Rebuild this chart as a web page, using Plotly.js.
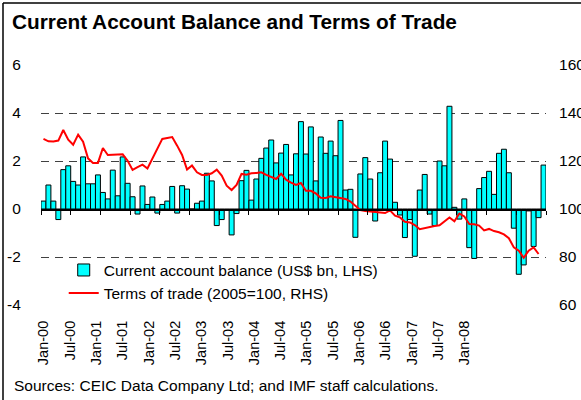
<!DOCTYPE html>
<html>
<head>
<meta charset="utf-8">
<script src="https://cdn.plot.ly/plotly-3.0.1.min.js"></script>
<style>html,body{margin:0;padding:0;background:#fff;}#chart{width:581px;height:400px;}</style>
</head>
<body>
<div id="chart"></div>
<script>
// Monthly data, Jan-2000 .. Jun-2008
const currentAccount = [
  0.33, 1.0, 0.33, -0.44, 1.64, 1.8, 1.15, 1.0, 2.17, 1.05, 1.05, 1.42,
  0.69, 0.42, 1.62, 0.55, 2.17, 1.07, 0.51, -0.21, 0.96, 0.19, 0.5, -0.17,
  0.19, 0.33, 0.94, -0.17, 0.97, 0.83, 0.0, 0.24, 0.33, 1.49, 1.17, -0.69,
  -0.44, -0.03, -1.08, -0.19, 1.18, 1.61, 0.37, 1.25, 2.11, 2.54, 2.875, 1.92,
  2.33, 2.69, 1.42, 2.3, 3.64, 2.29, 3.42, 1.17, 3.0, 2.32, 2.83, 2.22,
  3.69, 0.79, 0.82, -1.18, 1.46, 2.14, 1.25, -0.5, 1.51, 2.83, 2.08, 0.28,
  -0.25, -1.19, -0.44, -1.97, 0.79, 1.44, -0.21, -0.69, 2.0, 1.8, 4.28, 0.07,
  -0.42, 0.42, -1.61, -2.06, 0.85, 1.31, 1.57, 0.61, 2.32, 2.49, 1.51, -0.8,
  -2.72, -2.33, -0.08, -1.56, -0.36, 1.83
];
const termsOfTrade = [
  129.2, 128.2, 128.1, 128.5, 132.9, 128.9, 126.8, 131, 128, 121.1, 119.2, 119.2,
  125.4, 122.5, 122.6, 122.6, 122.8, 120.1, 116.3, 117.4, 118.5, 116.9, 120.8, 125.3,
  129.2, 129.6, 130, 126.4, 122.5, 116.4, 118.1, 115.3, 114.2, 114.2, 114.9, 116.4,
  113.9, 109.7, 107.9, 110, 114.6, 114.3, 114.9, 115, 115.3, 114.2, 113.5, 112.5,
  114.7, 112.2, 111, 110, 110.8, 107.6, 107.6, 106.5, 104.7, 104.6, 105.3, 105,
  104.4, 104.2, 103.1, 101.4, 99.6, 99.2, 99, 98.6, 98.3, 98.3, 99.4, 97.2,
  96.5, 94.7, 94.4, 93.3, 91.6, 92.1, 92.4, 92.9, 93.2, 95, 96.5, 94.9,
  98.1, 96.9, 93.75, 93.6, 93.1, 91.1, 91.7, 90.8, 90.3, 89.4, 87.8, 84,
  82.6, 79.7, 82.6, 84, 81.25
];
const monthLabels = ["Jan-00","Jul-00","Jan-01","Jul-01","Jan-02","Jul-02","Jan-03","Jul-03",
  "Jan-04","Jul-04","Jan-05","Jul-05","Jan-06","Jul-06","Jan-07","Jul-07","Jan-08"];
const leftTicks = [6, 4, 2, 0, -2, -4];
const leftTickText = ["6", "4", "2", "0", "-2", "-4"];
const rightTicks = [160, 140, 120, 100, 80, 60];
const rightTickText = ["160", "140", "120", "100", "80", "60"];
const seriesNames = ["Current account balance (US$ bn, LHS)", "Terms of trade (2005=100, RHS)"];
const titleText = "Current Account Balance and Terms of Trade";
const sourceText = "Sources: CEIC Data Company Ltd; and IMF staff calculations.";

const FONT = "Liberation Sans, Arial, sans-serif";
const idx = currentAccount.map((_, i) => i);
const totIdx = termsOfTrade.map((_, i) => i);
const sixMonthTicks = [];
for (let k = 0; k * 6 - 0.5 <= currentAccount.length - 0.5; k++) sixMonthTicks.push(k * 6 - 0.5);

const traces = [
  {
    type: "bar", x: idx, y: currentAccount, xaxis: "x", yaxis: "y",
    name: seriesNames[0],
    marker: { color: "#00FFFF", line: { color: "#000000", width: 1 } },
    width: 1, hoverinfo: "skip"
  },
  {
    type: "scatter", mode: "lines", x: totIdx, y: termsOfTrade, xaxis: "x", yaxis: "y2",
    name: seriesNames[1],
    line: { color: "#FF0000", width: 2 }, hoverinfo: "skip"
  },
  {
    type: "scatter", mode: "markers", x: monthLabels.map((_, i) => i), y: monthLabels.map(() => null),
    xaxis: "x2", yaxis: "y", marker: { opacity: 0 }, showlegend: false, hoverinfo: "skip"
  }
];

const layout = {
  width: 581, height: 400,
  margin: { l: 41, r: 35, t: 65, b: 95, pad: 0 },
  paper_bgcolor: "#ffffff", plot_bgcolor: "#ffffff",
  font: { family: FONT, size: 15.5, color: "#000000" },
  bargap: 0,
  showlegend: true,
  title: {
    text: titleText, xref: "container", yref: "container",
    x: 12 / 581, xanchor: "left", y: 1 - 22 / 400, yanchor: "middle",
    font: { family: FONT, size: 20.8, color: "#000000", weight: 700 }
  },
  xaxis: {
    range: [-0.5, currentAccount.length - 0.5], anchor: "free", position: 0.4,
    showline: true, linecolor: "#000000", linewidth: 1.6,
    ticks: "outside", ticklen: 4, tickwidth: 1, tickcolor: "#000000",
    tickmode: "array", tickvals: sixMonthTicks, showticklabels: false,
    showgrid: false, zeroline: false, fixedrange: true
  },
  xaxis2: {
    overlaying: "x", anchor: "y", side: "bottom",
    range: [-0.1027, 19.095],
    tickmode: "array", tickvals: monthLabels.map((_, i) => i), ticktext: monthLabels,
    tickangle: -90, ticks: "outside", ticklen: 9, tickcolor: "rgba(0,0,0,0)",
    tickfont: { family: FONT, size: 14.5, color: "#000000" },
    showgrid: false, zeroline: false, showline: false, fixedrange: true
  },
  yaxis: {
    range: [-4, 6], anchor: "x", side: "left",
    tickmode: "array", tickvals: leftTicks, ticktext: leftTickText,
    showgrid: true, gridcolor: "#404040", gridwidth: 1, griddash: "8px,6px",
    zeroline: false, showline: false,
    ticks: "outside", ticklen: 16, tickcolor: "rgba(0,0,0,0)",
    tickfont: { family: FONT, size: 15.5, color: "#000000" }, fixedrange: true
  },
  yaxis2: {
    range: [60, 160], overlaying: "y", anchor: "x", side: "right",
    tickmode: "array", tickvals: rightTicks, ticktext: rightTickText,
    showgrid: false, zeroline: false, showline: false,
    ticks: "outside", ticklen: 9, tickcolor: "rgba(0,0,0,0)",
    tickfont: { family: FONT, size: 15.5, color: "#000000" }, fixedrange: true
  },
  legend: {
    x: 0.045, y: 0.215, xanchor: "left", yanchor: "top",
    bgcolor: "rgba(0,0,0,0)", borderwidth: 0,
    font: { family: FONT, size: 15.5, color: "#000000" },
    traceorder: "normal", tracegroupgap: 0
  },
  shapes: [
    { type: "line", xref: "paper", yref: "paper",
      x0: (3 - 41) / 505, x1: (3 - 41) / 505, y0: (305 - 3) / 240, y1: (305 - 420) / 240,
      line: { color: "#000000", width: 1.5 } },
    { type: "line", xref: "paper", yref: "paper",
      x0: (3 - 41) / 505, x1: (600 - 41) / 505, y0: (305 - 3) / 240, y1: (305 - 3) / 240,
      line: { color: "#000000", width: 1.5 } }
  ],
  annotations: [
    { text: sourceText, xref: "paper", yref: "paper",
      x: (12 - 41) / 505, xanchor: "left", y: (305 - 385) / 240, yanchor: "middle",
      showarrow: false, font: { family: FONT, size: 15.5, color: "#000000" } }
  ]
};

Plotly.newPlot("chart", traces, layout, { staticPlot: true, displayModeBar: false });
</script>
</body>
</html>
